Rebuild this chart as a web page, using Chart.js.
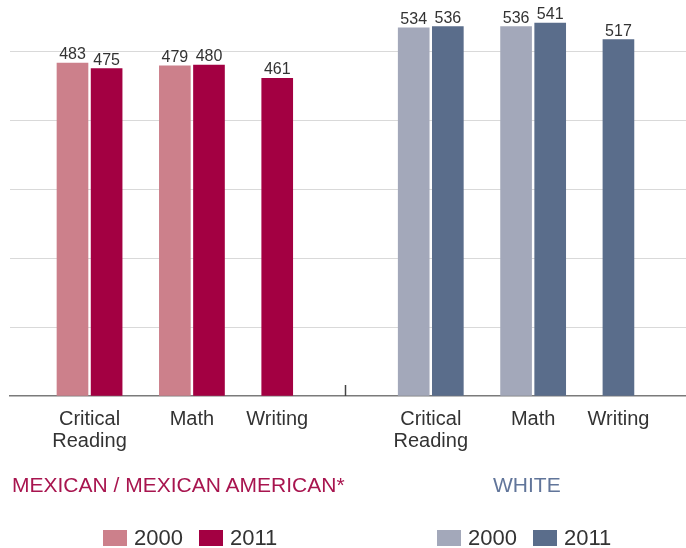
<!DOCTYPE html>
<html>
<head>
<meta charset="utf-8">
<script src="https://cdn.jsdelivr.net/npm/chart.js"></script>
<style>
    body { margin: 0; background: #fff; }
    #wrap { position: relative; width: 686px; height: 548px; font-family: 'Liberation Sans', Arial, sans-serif; }
    #chart { position: absolute; left: 0; top: 0; }
    .group-title { position: absolute; top: 474px; font-size: 21px; line-height: 21px; white-space: nowrap; }
    .legend { position: absolute; top: 527px; display: flex; align-items: center; font-size: 22px; line-height: 22px; color: #333; }
    .legend .swatch { width: 24px; height: 16px; margin-right: 7px; }
    .legend .item { display: flex; align-items: center; margin-right: 16px; }
</style>
</head>
<body>
<div id="wrap">
    <canvas id="chart" width="686" height="548"></canvas>
    <div class="group-title" id="title0" style="left: 12px;"></div>
    <div class="group-title" id="title1" style="left: 493px;"></div>
    <div class="legend" id="legend0" style="left: 103px;"></div>
    <div class="legend" id="legend1" style="left: 437px;"></div>
</div>
<script>
// Chart data
const categories = ['Critical Reading', 'Math', 'Writing'];
const groups = ['MEXICAN / MEXICAN AMERICAN*', 'WHITE'];
const years = ['2000', '2011'];
const mexican2000 = [483, 479, null];
const mexican2011 = [475, 480, 461];
const white2000 = [534, 536, null];
const white2011 = [536, 541, 517];
const yTicks = [0, 100, 200, 300, 400, 500];

const groupSeries = [[mexican2000, mexican2011], [white2000, white2011]];
const groupColors = [['#cc808b', '#a30042'], ['#a3a8ba', '#5a6d8b']];
const titleColors = ['#a8154f', '#61759a'];

// Lay the bars out on slots: pairs share a label slot in the middle,
// single bars carry their own label, groups are split by a separator slot
const slotLabels = {};
const datasets = [];
let separatorSlot = null;
let slot = 0;
groupSeries.forEach(function(series, g) {
    const points = [[], []];
    categories.forEach(function(cat, c) {
        const present = series.map(s => s[c] !== null);
        if (present[0] && present[1]) {
            points[0].push({ x: slot, y: series[0][c] });
            slotLabels[slot + 1] = cat.split(' ');
            points[1].push({ x: slot + 2, y: series[1][c] });
            slot += 3;
        } else {
            const k = present[0] ? 0 : 1;
            points[k].push({ x: slot, y: series[k][c] });
            slotLabels[slot] = cat.split(' ');
            slot += 1;
        }
        if (c < categories.length - 1) slot += 3;
    });
    years.forEach(function(year, k) {
        datasets.push({
            label: groups[g] + ' ' + year,
            data: points[k],
            backgroundColor: groupColors[g][k],
            borderWidth: 0,
            barThickness: 31,
            grouped: false
        });
    });
    if (g < groupSeries.length - 1) {
        slot += 3;
        separatorSlot = slot;
        slot += 4;
    }
});
const lastSlot = slot - 1;

// Values above bars
const valueLabels = {
    id: 'valueLabels',
    afterDatasetsDraw(chart) {
        const ctx = chart.ctx;
        ctx.save();
        ctx.font = '16px "Liberation Sans", Arial, sans-serif';
        ctx.fillStyle = '#333';
        ctx.textAlign = 'center';
        ctx.textBaseline = 'alphabetic';
        chart.data.datasets.forEach(function(ds, i) {
            chart.getDatasetMeta(i).data.forEach(function(bar, j) {
                ctx.fillText(ds.data[j].y, bar.x, bar.y - 4);
            });
        });
        ctx.restore();
    }
};

// Small tick between the two groups
const separatorTick = {
    id: 'separatorTick',
    afterDraw(chart) {
        const x = Math.round(chart.scales.x.getPixelForValue(separatorSlot)) + 0.5;
        const bottom = chart.chartArea.bottom;
        const ctx = chart.ctx;
        ctx.save();
        ctx.strokeStyle = '#444';
        ctx.lineWidth = 1.5;
        ctx.beginPath();
        ctx.moveTo(x, bottom - 11);
        ctx.lineTo(x, bottom);
        ctx.stroke();
        ctx.restore();
    }
};

new Chart(document.getElementById('chart'), {
    type: 'bar',
    data: { datasets: datasets },
    options: {
        responsive: false,
        animation: false,
        layout: { padding: { left: 10, right: 0, top: 10, bottom: 84 } },
        plugins: {
            legend: { display: false },
            tooltip: { enabled: false }
        },
        scales: {
            x: {
                type: 'linear',
                offset: false,
                min: -3.663,
                max: lastSlot + 3.96,
                grid: { display: false, drawTicks: false, offset: false },
                border: { display: true, color: '#7a7a7a', width: 1.5 },
                ticks: {
                    stepSize: 1,
                    autoSkip: false,
                    includeBounds: false,
                    maxRotation: 0,
                    padding: 12,
                    color: '#333',
                    font: { family: '"Liberation Sans", Arial, sans-serif', size: 20, lineHeight: 1.1 },
                    callback: function(value) {
                        return slotLabels[Math.round(value)] && Number.isInteger(value) ? slotLabels[value] : '';
                    }
                }
            },
            y: {
                min: 0,
                max: 560,
                grid: {
                    drawTicks: false,
                    color: function(ctx) {
                        const v = ctx.tick.value;
                        return (v > 0 && yTicks.includes(v)) ? '#d9d9d9' : 'rgba(0,0,0,0)';
                    }
                },
                border: { display: false },
                ticks: { display: false, stepSize: 100 }
            }
        }
    },
    plugins: [valueLabels, separatorTick]
});

// Group titles and legends
groups.forEach(function(name, g) {
    const t = document.getElementById('title' + g);
    t.textContent = name;
    t.style.color = titleColors[g];
    const lg = document.getElementById('legend' + g);
    years.forEach(function(year, k) {
        const item = document.createElement('div');
        item.className = 'item';
        const sw = document.createElement('div');
        sw.className = 'swatch';
        sw.style.background = groupColors[g][k];
        const label = document.createElement('span');
        label.textContent = year;
        item.appendChild(sw);
        item.appendChild(label);
        lg.appendChild(item);
    });
});
</script>
</body>
</html>
